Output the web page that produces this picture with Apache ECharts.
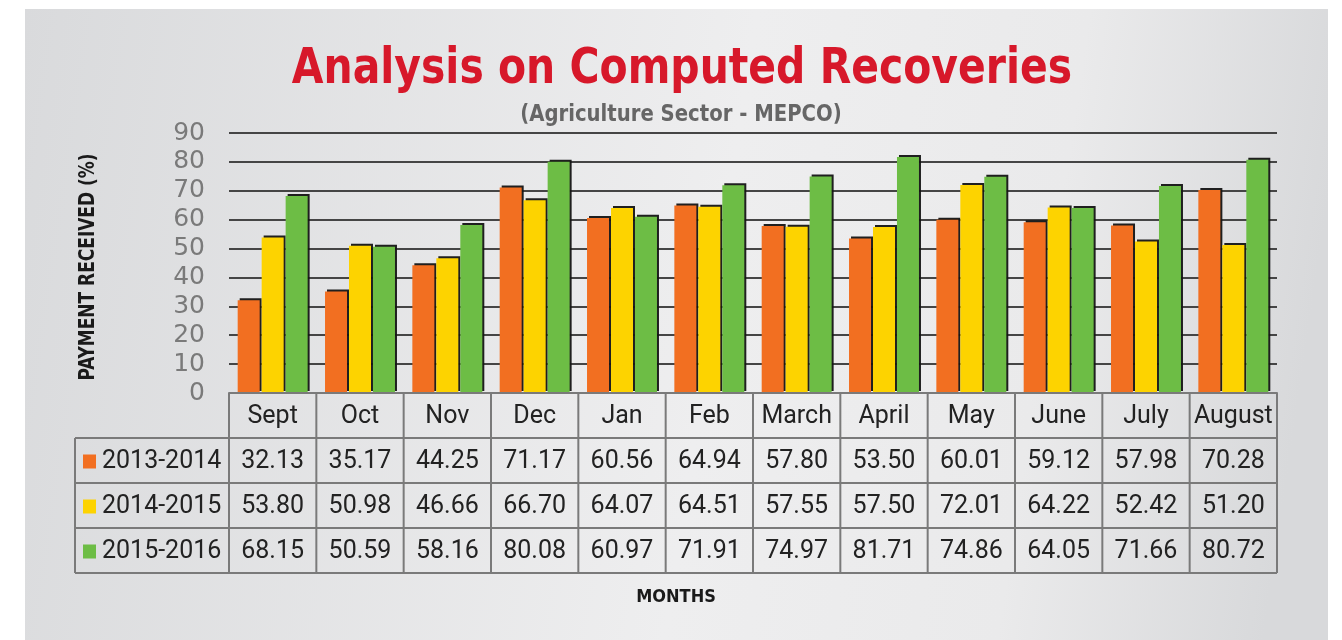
<!DOCTYPE html>
<html>
<head>
<meta charset="utf-8">
<script src="https://cdn.jsdelivr.net/npm/echarts@6/dist/echarts.min.js"></script>
<style>
html,body{margin:0;padding:0;background:#ffffff;}
#chart{width:1342px;height:640px;}
</style>
</head>
<body>
<div id="chart"></div>
<script>
// ---- data ----
const months = ['Sept','Oct','Nov','Dec','Jan','Feb','March','April','May','June','July','August'];
const seriesNames = ['2013-2014','2014-2015','2015-2016'];
const v2013 = [32.13,35.17,44.25,71.17,60.56,64.94,57.80,53.50,60.01,59.12,57.98,70.28];
const v2014 = [53.80,50.98,46.66,66.70,64.07,64.51,57.55,57.50,72.01,64.22,52.42,51.20];
const v2015 = [68.15,50.59,58.16,80.08,60.97,71.91,74.97,81.71,74.86,64.05,71.66,80.72];
const yMin = 0, yMax = 90, yStep = 10;
const titleText = 'Analysis on Computed Recoveries';
const subtitleText = '(Agriculture Sector - MEPCO)';
const yAxisName = 'PAYMENT RECEIVED (%)';
const xAxisName = 'MONTHS';

// ---- layout / style ----
const colors = ['#f26f21','#fdd300','#6dbd45'];
const W = 1342, H = 640;
const gLeft = 229, gRight = 1277, gTop = 133, gBottom = 393;
const tableLeft = 75, headH = 45, rowH = 45;
const cond = "'DejaVu Sans Condensed','DejaVu Sans',sans-serif";
const tfont = "Roboto,'DejaVu Sans',sans-serif";
const lineCol = '#7a7a7a';

const allVals = [v2013, v2014, v2015];
const fmt = v => v.toFixed(2);

const chart = echarts.init(document.getElementById('chart'), null, {renderer:'canvas'});

const series = seriesNames.map((n, i) => ({
  name: n,
  type: 'bar',
  data: allVals[i],
  barWidth: 22,
  barGap: '9%',
  itemStyle: {
    color: colors[i],
    shadowColor: 'rgba(20,20,20,0.95)',
    shadowOffsetX: 2,
    shadowOffsetY: -2,
    shadowBlur: 0
  }
}));

const option = {
  animation: false,
  backgroundColor: '#ffffff',
  grid: {left: gLeft, right: W - gRight, top: gTop, bottom: H - gBottom, containLabel: false},
  xAxis: {
    type: 'category',
    data: months,
    axisLine: {show: true, lineStyle: {color: lineCol, width: 2}},
    axisTick: {show: false},
    axisLabel: {show: false}
  },
  yAxis: {
    type: 'value',
    min: yMin, max: yMax, interval: yStep,
    axisLine: {show: false},
    axisTick: {show: false},
    axisLabel: {color:'#7a7a7a', fontSize: 25, fontFamily:"'DejaVu Sans',sans-serif", margin: 24},
    splitLine: {lineStyle: {color:'#454545', width: 2}}
  },
  series: series
};
chart.setOption(option);

// ---- graphics: titles, table (built from arrays), axis names ----
const elements = [];
const nCat = months.length;
const cw = (gRight - gLeft) / nCat;
const tTop = gBottom;
const bodyTop = tTop + headH;
const tBottom = bodyTop + rowH * seriesNames.length;
const line = (x1,y1,x2,y2) => ({type:'line', shape:{x1,y1,x2,y2}, style:{stroke: lineCol, lineWidth: 2}, silent:true, z: 10});
const txt = (text, x, y, o) => ({type:'text', z: 11, silent:true, x, y,
  scaleX: o.scaleX || 1, scaleY: o.scaleY || 1, rotation: o.rotation || 0,
  style: {text, x:0, y:0, align: o.align || 'center', verticalAlign:'middle',
    fill: o.fill || '#222222', fontSize: o.fontSize, fontWeight: o.fontWeight || 'normal',
    fontFamily: o.fontFamily || tfont}});

// titles
elements.push(txt(titleText, 682, 70, {fill:'#d7182a', fontSize: 50, fontWeight:'bold', fontFamily: cond, scaleX: 0.91}));
elements.push(txt(subtitleText, 681, 115, {fill:'#666666', fontSize: 23, fontWeight:'bold', fontFamily: cond, scaleX: 0.95}));

// horizontal lines
elements.push(line(gLeft, tTop, gRight, tTop));
for (let r = 0; r <= seriesNames.length; r++) {
  const y = bodyTop + r * rowH;
  elements.push(line(tableLeft, y, gRight, y));
}
// vertical lines
elements.push(line(tableLeft, bodyTop, tableLeft, tBottom));
for (let c = 0; c <= nCat; c++) {
  const x = gLeft + c * cw;
  elements.push(line(x, tTop, x, tBottom));
}
// header text
months.forEach((m) => {
  const p = chart.convertToPixel({xAxisIndex:0}, m);
  elements.push(txt(m, p, tTop + headH/2 + 1, {fontSize: 25}));
});
// rows
seriesNames.forEach((n, r) => {
  const cy = bodyTop + r * rowH + rowH/2 + 1;
  elements.push({type:'rect', z: 11, silent:true, shape:{x: tableLeft + 8, y: cy - 7, width: 13, height: 14}, style:{fill: colors[r]}});
  elements.push(txt(n, tableLeft + 27, cy, {fontSize: 25, align:'left'}));
  allVals[r].forEach((v, c) => {
    const p = chart.convertToPixel({xAxisIndex:0}, months[c]);
    elements.push(txt(fmt(v), p, cy, {fontSize: 25}));
  });
});
// axis names
elements.push(txt(yAxisName, 89, 267, {fill:'#1a1a1a', fontSize: 21, fontWeight:'bold', fontFamily: cond, rotation: Math.PI/2, scaleX: 0.9}));
elements.push(txt(xAxisName, 676, 597, {fill:'#1a1a1a', fontSize: 18, fontWeight:'bold', fontFamily: cond}));
// background panel
elements.unshift({type:'rect', z: -10, silent:true, shape:{x:25, y:9, width:1303, height: 640}, style:{
  fill: new echarts.graphic.LinearGradient(0, 0, 1, 0.3, [
    {offset:0, color:'#d9dadc'},
    {offset:0.55, color:'#eeeeef'},
    {offset:0.8, color:'#eaeaeb'},
    {offset:1, color:'#d8d9db'}
  ])
}});

chart.setOption({graphic: {elements}});
</script>
</body>
</html>
